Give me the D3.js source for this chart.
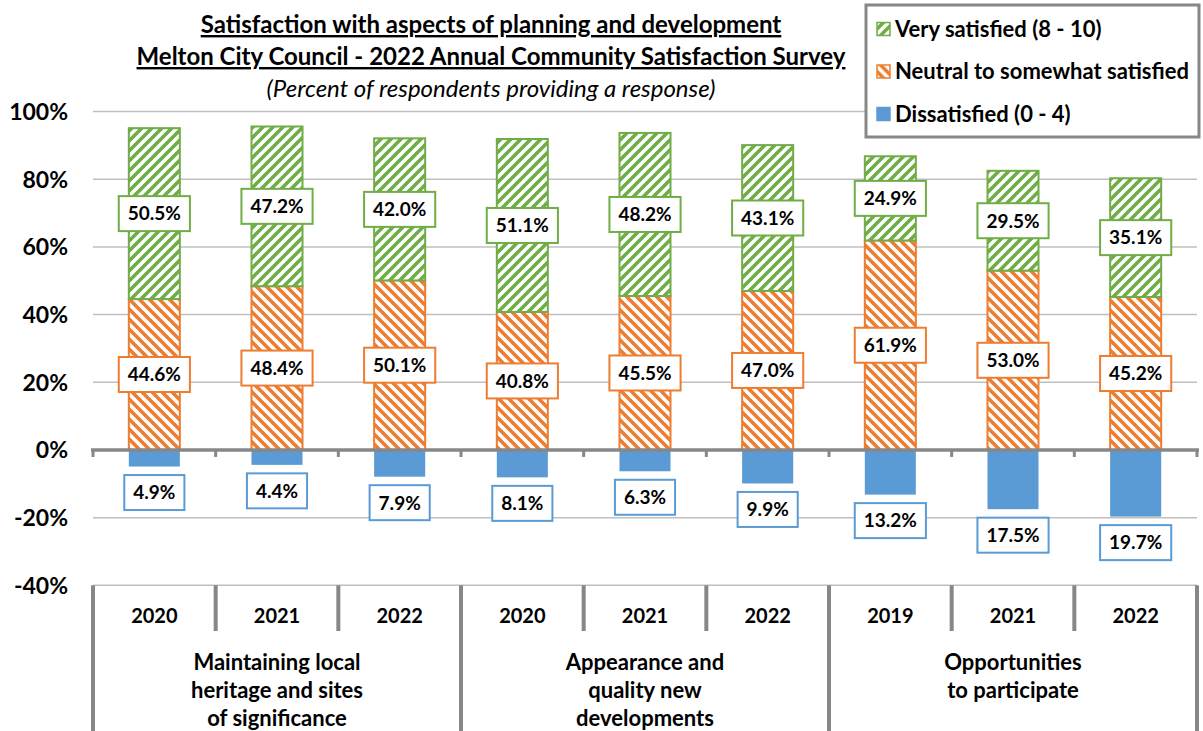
<!DOCTYPE html>
<html>
<head>
<meta charset="utf-8">
<script src="https://cdn.jsdelivr.net/npm/d3@7"></script>
<style>
  body { margin: 0; background: #fff; }
  svg { display: block; font-family: Lato, "Open Sans", sans-serif; }
</style>
</head>
<body>
<script>
// Data
const groups = [
    ["Maintaining local", "heritage and sites", "of significance"],
    ["Appearance and", "quality new", "developments"],
    ["Opportunities", "to participate"]
];
const years = ["2020", "2021", "2022", "2020", "2021", "2022", "2019", "2021", "2022"];
const verySatisfied = [50.5, 47.2, 42.0, 51.1, 48.2, 43.1, 24.9, 29.5, 35.1];
const neutral = [44.6, 48.4, 50.1, 40.8, 45.5, 47.0, 61.9, 53.0, 45.2];
const dissatisfied = [4.9, 4.4, 7.9, 8.1, 6.3, 9.9, 13.2, 17.5, 19.7];
const yTicks = [100, 80, 60, 40, 20, 0, -20, -40];
const legendLabels = ["Very satisfied (8 - 10)", "Neutral to somewhat satisfied", "Dissatisfied (0 - 4)"];

const green = "#70AD47", orange = "#ED7D31", blue = "#5B9BD5", grid = "#BFBFBF", axisGrey = "#878787";

const width = 1203, height = 731;
const svg = d3.select("body").append("svg")
    .attr("width", width)
    .attr("height", height);

// Patterns for the hatched bars
const defs = svg.append("defs");
function hatch(id, color, d) {
    const p = defs.append("pattern")
        .attr("id", id)
        .attr("patternUnits", "userSpaceOnUse")
        .attr("width", 10)
        .attr("height", 10);
    p.append("rect").attr("width", 10).attr("height", 10).attr("fill", "#fff");
    p.append("path").attr("d", d).attr("stroke", color).attr("stroke-width", 3.6);
}
hatch("hatchGreen", green, "M-3,3 L3,-3 M0,10 L10,0 M7,13 L13,7");
hatch("hatchOrange", orange, "M-3,7 L3,13 M0,0 L10,10 M7,-3 L13,3");

// Scales
const x = d3.scaleBand()
    .domain(d3.range(years.length))
    .range([93, 1197])
    .paddingInner(0.584)
    .paddingOuter(0.292);
const y = d3.scaleLinear()
    .domain([-40, 100])
    .range([585.3, 111.6]);

// Gridlines
svg.append("g")
    .selectAll("line")
    .data(yTicks.filter(t => t !== 0))
    .join("line")
    .attr("x1", 93).attr("x2", 1197)
    .attr("y1", d => y(d)).attr("y2", d => y(d))
    .attr("stroke", grid)
    .attr("stroke-width", 1.5);

// Y axis labels
svg.append("g")
    .selectAll("text")
    .data(yTicks)
    .join("text")
    .attr("x", 68)
    .attr("y", d => y(d))
    .attr("dy", "0.36em")
    .attr("text-anchor", "end")
    .attr("font-size", 23)
    .attr("font-weight", "bold")
    .text(d => d + "%");

// Bars
const idx = d3.range(years.length);
const bars = svg.append("g");
bars.selectAll(".neutral")
    .data(idx)
    .join("rect")
    .attr("class", "neutral")
    .attr("x", i => x(i))
    .attr("width", x.bandwidth())
    .attr("y", i => y(neutral[i]))
    .attr("height", i => y(0) - y(neutral[i]))
    .attr("fill", "url(#hatchOrange)")
    .attr("stroke", orange)
    .attr("stroke-width", 2);
bars.selectAll(".very")
    .data(idx)
    .join("rect")
    .attr("class", "very")
    .attr("x", i => x(i))
    .attr("width", x.bandwidth())
    .attr("y", i => y(neutral[i] + verySatisfied[i]))
    .attr("height", i => y(neutral[i]) - y(neutral[i] + verySatisfied[i]))
    .attr("fill", "url(#hatchGreen)")
    .attr("stroke", green)
    .attr("stroke-width", 2);
bars.selectAll(".dis")
    .data(idx)
    .join("rect")
    .attr("class", "dis")
    .attr("x", i => x(i))
    .attr("width", x.bandwidth())
    .attr("y", y(0))
    .attr("height", i => y(-dissatisfied[i]) - y(0))
    .attr("fill", blue);

// Zero axis with ticks
const zero = svg.append("g");
zero.append("line")
    .attr("x1", 91).attr("x2", 1199)
    .attr("y1", y(0)).attr("y2", y(0))
    .attr("stroke", axisGrey)
    .attr("stroke-width", 3.5);
zero.selectAll(".tick")
    .data(d3.range(years.length + 1))
    .join("line")
    .attr("x1", i => 93 + i * x.step()).attr("x2", i => 93 + i * x.step())
    .attr("y1", y(0)).attr("y2", y(0) + 7)
    .attr("stroke", axisGrey)
    .attr("stroke-width", 3);

// Value labels in boxes
function label(g, cx, cy, text, color) {
    const t = g.append("text")
        .attr("x", cx).attr("y", cy)
        .attr("dy", "0.36em")
        .attr("text-anchor", "middle")
        .attr("font-size", 19)
        .attr("font-weight", "bold")
        .text(text);
    const bb = t.node().getBBox();
    g.insert("rect", "text")
        .attr("x", cx - bb.width / 2 - 9)
        .attr("y", cy - 17.5)
        .attr("width", bb.width + 18)
        .attr("height", 35)
        .attr("fill", "#fff")
        .attr("stroke", color)
        .attr("stroke-width", 2);
}
const labels = svg.append("g");
idx.forEach(i => {
    const cx = x(i) + x.bandwidth() / 2;
    label(labels.append("g"), cx, y(neutral[i] + verySatisfied[i] / 2), verySatisfied[i].toFixed(1) + "%", green);
    label(labels.append("g"), cx, y(neutral[i] / 2), neutral[i].toFixed(1) + "%", orange);
    label(labels.append("g"), cx, y(-dissatisfied[i]) + 26, dissatisfied[i].toFixed(1) + "%", blue);
});

// Category axis
const cat = svg.append("g");
cat.selectAll(".sep")
    .data(d3.range(years.length + 1))
    .join("line")
    .attr("x1", i => 93 + i * x.step()).attr("x2", i => 93 + i * x.step())
    .attr("y1", y(-40))
    .attr("y2", i => i % 3 === 0 ? height : 631)
    .attr("stroke", axisGrey)
    .attr("stroke-width", 4);
cat.selectAll(".year")
    .data(idx)
    .join("text")
    .attr("x", i => x(i) + x.bandwidth() / 2)
    .attr("y", 616)
    .attr("dy", "0.36em")
    .attr("text-anchor", "middle")
    .attr("font-size", 20)
    .attr("font-weight", "bold")
    .text(i => years[i]);
groups.forEach((lines, gi) => {
    const cx = 93 + (gi * 3 + 1.5) * x.step();
    cat.append("text")
        .attr("x", cx)
        .attr("y", 662)
        .attr("text-anchor", "middle")
        .attr("font-size", 22)
        .attr("font-weight", "bold")
        .selectAll("tspan")
        .data(lines)
        .join("tspan")
        .attr("x", cx)
        .attr("dy", (d, k) => k === 0 ? "0.36em" : 28)
        .text(d => d);
});

// Titles
const title = svg.append("g").attr("text-anchor", "middle");
title.append("text")
    .attr("x", 491).attr("y", 33)
    .attr("font-size", 24).attr("font-weight", "bold")
    .attr("text-decoration", "underline")
    .text("Satisfaction with aspects of planning and development");
title.append("text")
    .attr("x", 491).attr("y", 65)
    .attr("font-size", 24).attr("font-weight", "bold")
    .attr("text-decoration", "underline")
    .text("Melton City Council - 2022 Annual Community Satisfaction Survey");
title.append("text")
    .attr("x", 491).attr("y", 97)
    .attr("font-size", 24).attr("font-style", "italic")
    .text("(Percent of respondents providing a response)");

// Legend
const legend = svg.append("g");
legend.append("rect")
    .attr("x", 866).attr("y", 5)
    .attr("width", 333).attr("height", 132)
    .attr("fill", "#fff")
    .attr("stroke", axisGrey)
    .attr("stroke-width", 3);
const legendFill = ["url(#hatchGreen)", "url(#hatchOrange)", blue];
const legendStroke = [green, orange, blue];
legend.selectAll(".item")
    .data(legendLabels)
    .join("g")
    .attr("transform", (d, i) => `translate(877, ${29 + i * 42.5})`)
    .each(function (d, i) {
        const g = d3.select(this);
        g.append("rect")
            .attr("x", 0).attr("y", -6.5)
            .attr("width", 13).attr("height", 13)
            .attr("fill", legendFill[i])
            .attr("stroke", legendStroke[i])
            .attr("stroke-width", 1.5);
        g.append("text")
            .attr("x", 18)
            .attr("dy", "0.36em")
            .attr("font-size", 22)
            .attr("font-weight", "bold")
            .text(d);
    });
</script>
</body>
</html>
